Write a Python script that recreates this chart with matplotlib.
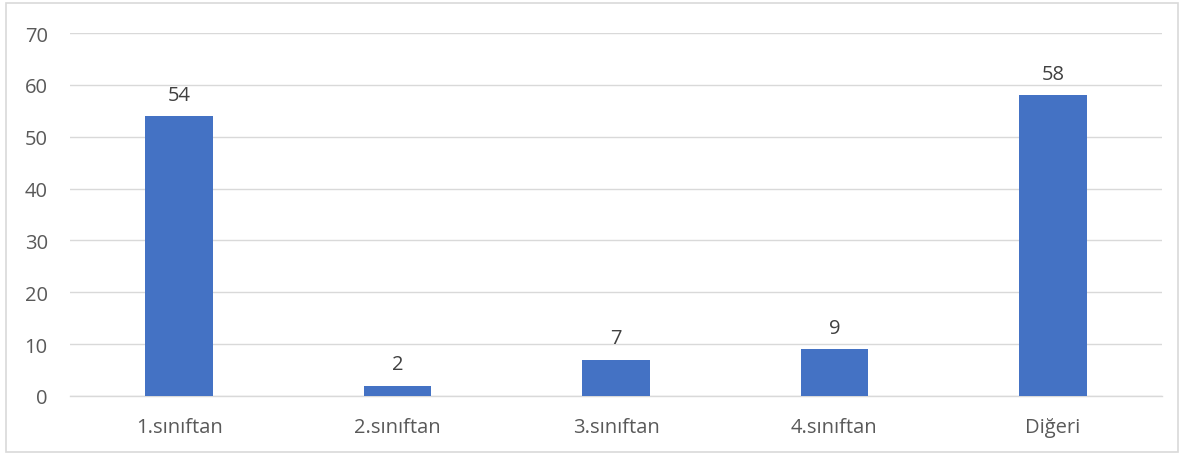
import matplotlib.pyplot as plt
from matplotlib.patches import Rectangle

# veriler
kategoriler = ["1.sınıftan", "2.sınıftan", "3.sınıftan", "4.sınıftan", "Diğeri"]
degerler = [54, 2, 7, 9, 58]
y_ticks = [0, 10, 20, 30, 40, 50, 60, 70]

plt.rcParams['font.family'] = ['Open Sans', 'DejaVu Sans']

fig = plt.figure(figsize=(11.82, 4.56), dpi=100)
ax = fig.add_axes([70/1182, 1-397/456, 1092/1182, 363/456])

x = range(len(kategoriler))
ax.bar(x, degerler, width=0.31, color="#4472C4", zorder=3)
for i, v in zip(x, degerler):
    ax.text(i, v + 2.2, str(v), ha="center", va="bottom", fontsize=14.5, color="#404040")

ax.set_xlim(-0.5, len(kategoriler) - 0.5)
ax.set_ylim(0, 70)
ax.set_yticks(y_ticks)
ax.set_xticks(list(x))
ax.set_xticklabels(kategoriler)
ax.tick_params(axis="both", length=0, labelsize=14.5, colors="#595959")
ax.tick_params(axis="x", pad=15)
ax.tick_params(axis="y", pad=16)
ax.grid(axis="y", color="#D9D9D9", linewidth=1, zorder=0)
for s in ["top", "right", "left"]:
    ax.spines[s].set_visible(False)
ax.spines["bottom"].set_color("#D9D9D9")
ax.spines["bottom"].set_linewidth(1)

# dış çerçeve
fig.patches.append(Rectangle((6/1182, 3/456), 1172/1182, 449/456, transform=fig.transFigure,
                             fill=False, edgecolor="#D9D9D9", linewidth=1.2))

fig.savefig("out.png", dpi=100)
